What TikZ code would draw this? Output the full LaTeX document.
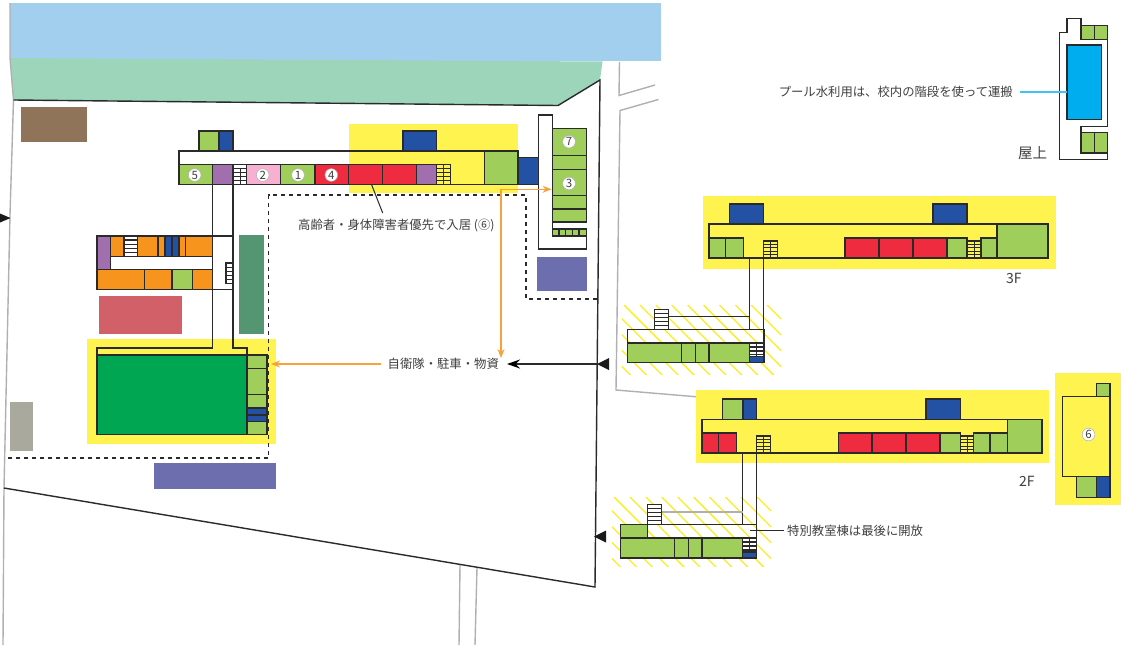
\documentclass[tikz,border=0pt]{standalone}
\usepackage{fontspec}
\setmainfont{Noto Sans CJK JP}
\usetikzlibrary{arrows.meta}
\definecolor{cwater}{HTML}{A3CFEF}
\definecolor{cbank}{HTML}{9DD5BB}
\definecolor{cbrown}{HTML}{8F745A}
\definecolor{cteal}{HTML}{559672}
\definecolor{cpink}{HTML}{D26069}
\definecolor{cperi}{HTML}{6D6EAE}
\definecolor{cstone}{HTML}{A9A99E}
\definecolor{cyel}{HTML}{FFF44F}
\definecolor{cgrn}{HTML}{9FCE5A}
\definecolor{cgym}{HTML}{00A651}
\definecolor{cblu}{HTML}{2351A3}
\definecolor{cred}{HTML}{EF2B40}
\definecolor{cpur}{HTML}{A26FAE}
\definecolor{cora}{HTML}{F7941E}
\definecolor{clp}{HTML}{F8B0D2}
\definecolor{ccy}{HTML}{00AEEF}
\definecolor{cline}{HTML}{2A2A2A}
\definecolor{cgry}{HTML}{B0B0B0}
\definecolor{carr}{HTML}{F7A23B}
\definecolor{ctxt}{HTML}{404040}
\newcommand{\plainarea}[5]{\fill[#5] (#1,#2) rectangle (#3,#4);}
\newcommand{\room}[5]{\filldraw[wall,fill=#5] (#1,#2) rectangle (#3,#4);}
\newcommand{\stair}[5]{\filldraw[wall,fill=#5] (#1,#2) rectangle (#3,#4);
  \pgfmathsetmacro{\sth}{(#4-#2)/5}
  \foreach \k in {1,...,4}{\draw[wall] (#1,{#2+\k*\sth}) -- (#3,{#2+\k*\sth});}
  \draw[wall,line width=.8pt] ({(#1+#3)/2},#2) -- ({(#1+#3)/2},#4);}
\newcommand{\hstair}[5]{\filldraw[wall,fill=#5] (#1,#2) rectangle (#3,#4);
  \pgfmathsetmacro{\sth}{(#4-#2)/5}
  \foreach \k in {1,...,4}{\draw[wall] (#1,{#2+\k*\sth}) -- (#3,{#2+\k*\sth});}}
\newcommand{\hatchzone}[4]{\begin{scope}
  \clip (#1,#2) rectangle (#3,#4);
  \foreach \k in {-5,...,11}{\draw[yellow!95!orange,line width=1.1pt] ({#1+2+\k*15.9},#2) -- ++(90,90);}
  \end{scope}}
\tikzset{
  wall/.style={draw=cline,line width=1.25pt},
  lbl/.style={font=\fontsize{12.35}{14}\selectfont,text=ctxt,inner sep=0pt},
  flr/.style={font=\fontsize{14.5}{16}\selectfont,text=ctxt,inner sep=0pt},
  num/.style={circle,draw=cgry,line width=.5pt,fill=white,minimum size=12.7pt,inner sep=0pt,font=\fontsize{11.5}{11.5}\selectfont,text=ctxt},
  gl/.style={draw=cgry,line width=1.4pt},
  dashline/.style={draw=cline,line width=1.25pt,dash pattern=on 4pt off 4pt},
  oarr/.style={draw=carr,line width=1.3pt},
  tipo/.style={-{Stealth[length=9pt,width=7pt,color=carr]}},
}
\begin{document}
\begin{tikzpicture}[x=1pt,y=-1pt]
\useasboundingbox (0,0) rectangle (1121,645);
\fill[white] (0,0) rectangle (1121,645);
% terrain
\fill[cwater] (10,3) rectangle (661,61);
\fill[cbank] (10.5,58) -- (602.5,61.5) -- (600,80) -- (558,105.5) -- (13.5,100) -- cycle;
\draw[gl] (10,3) -- (10,58) -- (13.5,100) -- (10,215) -- (4,488) -- (3,645);
\draw[gl] (619.5,62) -- (619,95.5) -- (655,85);
\draw[gl] (658.5,99.5) -- (620,110.5) -- (616,390) -- (705,397.5);
\draw[gl] (460,565) -- (459,645);
\draw[gl] (477,568) -- (475,645);
\draw[cline,line width=1.4pt] (13.5,100) -- (558,105.5) -- (600,80) -- (595,587) -- (4,488);
% plain areas
\plainarea{21}{107}{87}{142}{cbrown}
\plainarea{239}{235}{264}{334}{cteal}
\plainarea{99}{296}{182}{334}{cpink}
\plainarea{154}{463}{276}{489}{cperi}
\plainarea{537}{257}{587}{291}{cperi}
\plainarea{10}{402}{33}{451}{cstone}
% yellow zones
\plainarea{349}{124}{518}{193}{cyel}
\plainarea{87}{339}{276}{444}{cyel}
\plainarea{703}{196}{1056}{269}{cyel}
\plainarea{696}{390}{1049}{463}{cyel}
\plainarea{1055}{373}{1121}{505}{cyel}
\hatchzone{622}{305}{781}{374}
\hatchzone{612}{497}{771}{566}
% main building
\room{199}{131}{219}{151}{cgrn}
\room{219}{131}{233}{151}{cblu}
\room{403}{131}{436.7}{151}{cblu}
\draw[wall] (179,151) rectangle (518,184.5);
\room{179}{164.7}{212.7}{184.5}{cgrn}
\room{212.7}{164.7}{233}{184.5}{cpur}
\hstair{233}{164.7}{246.7}{184.5}{white}
\draw[wall,line width=.8pt] (240,168.5) -- (240,184.5);
\room{246.7}{164.7}{280.7}{184.5}{clp}
\room{280.7}{164.7}{315}{184.5}{cgrn}
\room{315}{164.7}{348.7}{184.5}{cred}
\room{348.7}{164.7}{382.7}{184.5}{cred}
\room{382.7}{164.7}{416.3}{184.5}{cred}
\room{416.3}{164.7}{436.7}{184.5}{cpur}
\stair{436.7}{164.7}{450.7}{184.5}{cyel}
\room{484.3}{151}{518}{184.5}{cgrn}
\room{518}{157.7}{538.5}{184.5}{cblu}
\node[num] (n5) at (194.7,175) {5};
\node[num] (n2) at (262.7,175) {2};
\node[num] (n1) at (298,175) {1};
\node[num] (n4) at (331.3,175) {4};
% link to gym and wing
\draw[wall] (212.7,184.5) -- (212.7,348) -- (97,348) -- (97,355);
\draw[wall] (233,184.5) -- (233,348) -- (247,348) -- (247,355);
\draw[wall] (212.7,236) -- (233,236);
\draw[wall] (212.7,289.7) -- (233,289.7);
\hstair{226}{263}{233}{283.7}{white}
% west wing
\room{97}{236}{110.5}{269.7}{cpur}
\room{110.5}{236}{124}{256.5}{cora}
\hstair{124}{236}{137.7}{256.5}{white}
\room{137.7}{236}{158}{256.5}{cora}
\room{158}{236}{165}{256.5}{cora}
\room{165}{236}{172}{256.5}{cblu}
\room{172}{236}{179}{256.5}{cblu}
\room{179}{236}{185.7}{256.5}{cora}
\room{185.7}{236}{212.7}{256.5}{cora}
\room{97}{269.7}{144.5}{289.7}{cora}
\room{144.5}{269.7}{172}{289.7}{cora}
\room{172}{269.7}{192.5}{289.7}{cgrn}
\room{192.5}{269.7}{212.7}{289.7}{cora}
% gym
\filldraw[wall,line width=1.6pt,fill=cgym] (97,355) rectangle (267,434.5);
\room{247}{355}{267}{368.5}{cgrn}
\room{247}{368.5}{267}{394.7}{cgrn}
\room{247}{394.7}{267}{408}{cgrn}
\room{247}{408}{267}{415}{cblu}
\room{247}{415}{267}{421.5}{cblu}
\room{247}{421.5}{267}{434.5}{cgrn}
% east wing
\draw[wall] (552.5,222) -- (552.5,115) -- (538.5,115) -- (538.5,249) -- (586.7,249) -- (586.7,229);
\draw[wall] (552.5,222) -- (552.5,229);
\room{552.5}{128.5}{586.7}{155.3}{cgrn}
\room{552.5}{155.3}{586.7}{169.3}{cgrn}
\room{552.5}{169.3}{586.7}{195.7}{cgrn}
\room{552.5}{195.7}{586.7}{209}{cgrn}
\room{552.5}{209}{586.7}{222}{cgrn}
\foreach \a/\b in {552.5/559,559/565.7,565.7/572.3,572.3/579,579/586.7}{\room{\a}{229}{\b}{236}{cgrn}}
\node[num] (n7) at (569,141.7) {7};
\node[num] (n3) at (569,183.5) {3};
% 3F
\draw[wall] (709,224) rectangle (1048,258);
\room{729.3}{204}{763.5}{224}{cblu}
\room{933}{204}{967}{224}{cblu}
\room{709}{238}{725.7}{258}{cgrn}
\room{725.7}{238}{743.5}{258}{cgrn}
\stair{763.5}{241}{777.5}{258}{cyel}
\room{845}{238}{879}{258}{cred}
\room{879}{238}{913}{258}{cred}
\room{913}{238}{947}{258}{cred}
\room{947}{238}{967}{258}{cgrn}
\stair{967}{241}{981}{258}{cyel}
\room{981}{238}{997}{258}{cgrn}
\room{997}{224}{1048}{258}{cgrn}
% upper special wing
\draw[wall] (749.5,258) rectangle (763.5,329.5);
\draw[wall] (627.5,329.5) rectangle (764,362.7);
\draw[wall,line width=.9pt] (668.5,316.7) -- (749.5,316.7);
\hstair{654.5}{309.5}{668.5}{329.5}{white}
\room{627.5}{343}{681.7}{362.7}{cgrn}
\room{681.7}{343}{695.5}{362.7}{cgrn}
\room{695.5}{343}{709}{362.7}{cgrn}
\room{709}{343}{749.5}{362.7}{cgrn}
\stair{749.5}{343}{764}{362.7}{white}
\room{749.5}{356.7}{764}{362.7}{cblu}
% 2F
\draw[wall] (702,419.5) rectangle (1042,453);
\room{722.7}{399}{743}{419.5}{cgrn}
\room{743}{399}{756.7}{419.5}{cblu}
\room{926}{399}{960.3}{419.5}{cblu}
\room{702}{433}{718.7}{453}{cred}
\room{718.7}{433}{736.5}{453}{cred}
\stair{756.5}{436}{770.7}{453}{cyel}
\room{838.5}{433}{872}{453}{cred}
\room{872}{433}{906}{453}{cred}
\room{906}{433}{940}{453}{cred}
\room{940}{433}{960.3}{453}{cgrn}
\stair{960.3}{436}{973.7}{453}{cyel}
\room{973.7}{433}{990}{453}{cgrn}
\room{990}{433}{1007.5}{453}{cgrn}
\room{1007.5}{419.5}{1042}{453}{cgrn}
% lower special wing
\draw[wall] (742.7,453) rectangle (756.5,524.5);
\draw[wall] (620.7,524.5) rectangle (756.5,558);
\draw[cgry,line width=1.1pt] (661.5,512) -- (742.7,512);
\hstair{647.5}{504.5}{661.5}{524.5}{white}
\room{620.7}{524.5}{647.5}{538}{cgrn}
\room{620.7}{538}{674.5}{558}{cgrn}
\room{674.5}{538}{688.5}{558}{cgrn}
\room{688.5}{538}{702}{558}{cgrn}
\room{702}{538}{742.7}{558}{cgrn}
\stair{742.7}{538}{756.5}{558}{white}
\room{742.7}{552}{756.5}{558}{cblu}
% roof
\draw[wall] (1059.5,32.3) -- (1067,32.3) -- (1067,18.7) -- (1081,18.7) -- (1081,25.7) -- (1107.7,25.7) -- (1107.7,126.3) -- (1081,126.3) -- (1081,132.3) -- (1107.7,132.3) -- (1107.7,159.3) -- (1059.5,159.3) -- cycle;
\room{1081}{25.7}{1094.3}{39.3}{cgrn}
\room{1094.3}{25.7}{1107.7}{39.3}{cgrn}
\room{1081}{132.3}{1094.3}{153}{cgrn}
\room{1094.3}{132.3}{1107.7}{153}{cgrn}
\filldraw[wall,fill=ccy] (1067,45) rectangle (1101.3,119.5);
\coordinate (pool) at (1067,92);
% panel 6
\filldraw[wall,fill=cyel] (1062.5,396.7) rectangle (1110,476.7);
\room{1096.3}{383.3}{1110}{396.7}{cgrn}
\room{1076.3}{476.7}{1096.3}{497.5}{cgrn}
\room{1096.3}{476.7}{1110}{497.5}{cblu}
\node[num] (n6) at (1088.5,434.5) {6};
% dashed line
\draw[dashline] (8,458) -- (268.7,458) -- (268.7,195) -- (526,195) -- (526,299) -- (597,299);
% labels
\node[lbl,anchor=west] (lelder) at (298,225) {高齢者・身体障害者優先で入居 (⑥)};
\node[lbl,anchor=west] (lsdf) at (387.5,364) {自衛隊・駐車・物資};
\node[lbl,anchor=west] (lspec) at (787,531) {特別教室棟は最後に開放};
\node[lbl,anchor=east] (lpool) at (1013,92) {プール水利用は、校内の階段を使って運搬};
\node[flr,anchor=west] (lroof) at (1018,153) {屋上};
\node[lbl,font=\fontsize{14}{16}\selectfont,anchor=west] (l3f) at (1006,278) {3F};
\node[lbl,font=\fontsize{14}{16}\selectfont,anchor=west] (l2f) at (1019,481) {2F};
% leaders and arrows
\coordinate (red5) at (371.7,185);
\draw[cline,line width=1pt] (red5) -- (382.7,213);
\draw[ccy!75!white,line width=1.3pt] (1019.5,92) -- (pool);
\coordinate (spec) at (750,530.5);
\draw[cline,line width=1pt] (spec) -- (784,530.5);
\coordinate (gymE) at (271,364);
\coordinate (gymS) at (381,364);
\coordinate (bend) at (501,189.3);
\coordinate (eastW) at (551.5,189.3);
\coordinate (vend) at (501,358);
\coordinate (gateE) at (597,364);
\coordinate (gateW) at (507,364);
\draw[oarr,tipo] (gymS) -- (gymE);
\draw[oarr,tipo] (bend) -- (eastW);
\draw[oarr,tipo] (bend) -- (vend);
\draw[cline,line width=1.5pt,-{Stealth[length=13pt,width=9pt,color=black]}] (gateE) -- (gateW);
% gate triangles
\fill[black!90] (597,364) -- (609,358) -- (609,370) -- cycle;
\fill[black!90] (594,536.5) -- (606,530.5) -- (606,542.5) -- cycle;
\fill[black!90] (10.5,218) -- (0,213.5) -- (0,222.5) -- cycle;
\end{tikzpicture}
\end{document}
